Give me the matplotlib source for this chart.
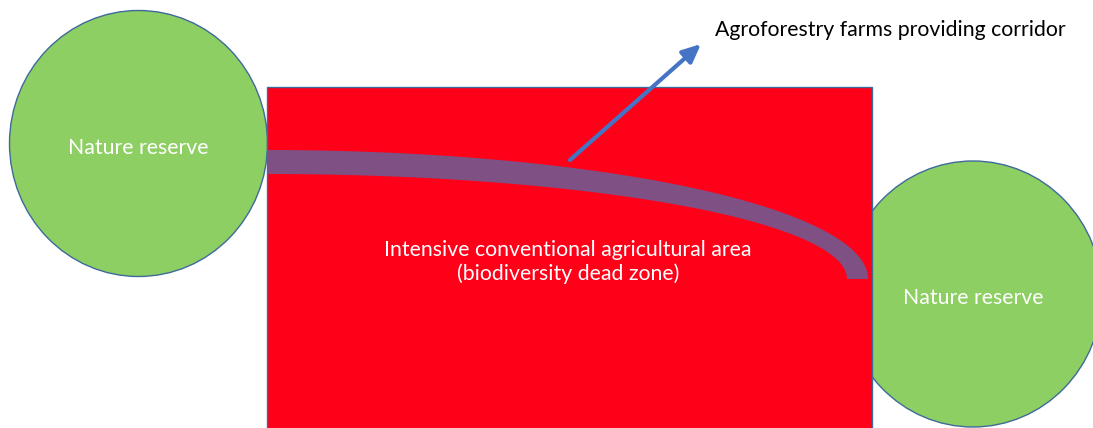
import numpy as np
import matplotlib.pyplot as plt
import matplotlib.patches as mpatches

# labels
reserve_labels = ["Nature reserve", "Nature reserve"]
area_label = "Intensive conventional agricultural area\n(biodiversity dead zone)"
corridor_label = "Agroforestry farms providing corridor"

# layout in pixel units (image is 1093 x 428)
W, H = 1093, 428
reserve_centers = [(138.5, 143.5), (973, 294)]
reserve_size = (258, 266)
farm_box = (267, 87, 605, 400)  # x, y, width, height
# corridor: quarter ellipse band, centre, outer/inner semi axes
corr_center = (267, 279)
corr_outer = (601, 129)
corr_inner = (580, 105)
arrow_start = (570, 160)
arrow_end = (701, 44)

green = "#8ecf63"
red = "#ff0019"
purple = "#7e5084"
edge = "#3e6a9a"
arrow_blue = "#4674c4"
fs = 15.3

fig = plt.figure(figsize=(W / 100, H / 100), dpi=100)
ax = fig.add_axes([0, 0, 1, 1])
ax.set_xlim(0, W)
ax.set_ylim(H, 0)
ax.axis("off")

for (cx, cy), lab in zip(reserve_centers, reserve_labels):
    ax.add_patch(mpatches.Ellipse((cx, cy), reserve_size[0], reserve_size[1],
                                  facecolor=green, edgecolor=edge, lw=1.0, zorder=1))
    ax.text(cx, cy + 4.5, lab, color="white", fontsize=fs, family="Lato",
            ha="center", va="center", zorder=5)

x0, y0, bw, bh = farm_box
ax.add_patch(mpatches.Rectangle((x0, y0), bw, bh, facecolor=red,
                                edgecolor=edge, lw=1.0, zorder=2))

# corridor band, left -> right on the outer edge, back on the inner edge
s = np.linspace(0, np.pi / 2, 200)
ox = corr_center[0] + corr_outer[0] * np.sin(s)
oy = corr_center[1] - corr_outer[1] * np.cos(s)
ix = corr_center[0] + corr_inner[0] * np.sin(s[::-1])
iy = corr_center[1] - corr_inner[1] * np.cos(s[::-1])
band = np.column_stack([np.concatenate([ox, ix]), np.concatenate([oy, iy])])
ax.add_patch(mpatches.Polygon(band, closed=True, facecolor=purple,
                              edgecolor="none", zorder=3))

ax.text(568, 262, area_label, color="white", fontsize=fs,
        family="Lato", ha="center", va="center", linespacing=1.2, zorder=5)

ax.annotate("", xy=arrow_end, xytext=arrow_start,
            arrowprops=dict(arrowstyle="-|>,head_length=1.1,head_width=0.5",
                            color=arrow_blue, lw=3.0, shrinkA=0, shrinkB=0),
            zorder=4)
ax.text(715, 30, corridor_label, color="black", fontsize=fs, family="Lato",
        ha="left", va="center", zorder=5)

fig.savefig("out.png", dpi=100)
